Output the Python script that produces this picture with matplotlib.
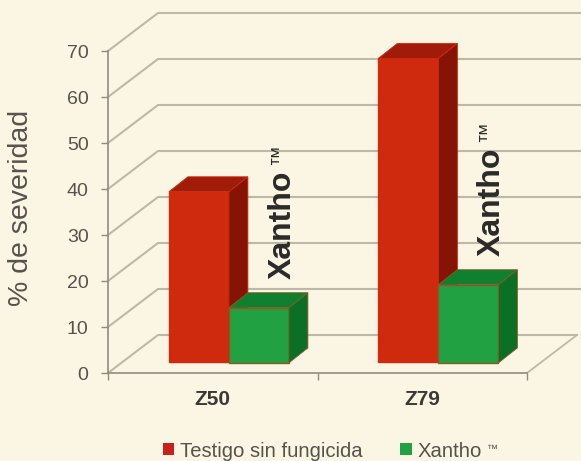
import matplotlib
matplotlib.use("Agg")
import matplotlib.pyplot as plt
from matplotlib.patches import Patch, Polygon

plt.rcParams['font.family'] = ['Liberation Sans', 'DejaVu Sans']

categories = ['Z50', 'Z79']
testigo = [37, 66]
xantho = [12, 17]
y_ticks = [0, 10, 20, 30, 40, 50, 60, 70]

W, H = 581, 461
BG = '#FBF5E3'
GRID = '#BDB9A9'
AXIS = '#8F8C80'
TXT = '#55534B'


def draw_bar(ax, x, val, base, width, front, top, side, edge, z):
    # front face is a normal bar, top and side are sheared copies of it
    ax.bar(x, val, width=width, bottom=base, align='edge', color=front,
           edgecolor=edge, linewidth=1, zorder=z, clip_on=False)
    y1 = base + val
    ax.add_patch(Polygon([(x, y1), (x + width, y1), (x + width + dx, y1 + dy), (x + dx, y1 + dy)],
                         closed=True, fc=top, ec=edge, lw=0.6, zorder=z, clip_on=False))
    ax.add_patch(Polygon([(x + width, base), (x + width + dx, base + dy), (x + width + dx, y1 + dy), (x + width, y1)],
                         closed=True, fc=side, ec=edge, lw=0.6, zorder=z, clip_on=False))


fig = plt.figure(figsize=(W / 100, H / 100), dpi=100, facecolor=BG)
ax = fig.add_axes([108 / W, (H - 373) / H, (527 - 108) / W, (373 - 51) / H])
ax.set_facecolor('none')
ax.set_xlim(0, 2)
ax.set_ylim(0, 70)

# depth of the fake 3d box and of the bars, in data units
wall_dx, wall_dy = 50 / 209.5, 38 / 4.6
dx, dy = 19 / 209.5, 15 / 4.6
right_edge = (581 - 108) / 209.5

for v in y_ticks:
    ax.plot([0, wall_dx, right_edge if v else 2 + wall_dx], [v, v + wall_dy, v + wall_dy],
            color=GRID, lw=1.5, zorder=1, clip_on=False, solid_joinstyle='miter')
ax.plot([2, 2 + wall_dx], [0, wall_dy], color=GRID, lw=1.3, zorder=1, clip_on=False)

base = 11 / 4.6
bar_w = 60 / 209.5
for i in range(len(categories)):
    split = i + 0.577
    draw_bar(ax, split - bar_w, testigo[i], base, bar_w, '#CF2A0E', '#A01B08', '#861405', '#CF2A0E', 3)
    draw_bar(ax, split, xantho[i], base - 0.2, bar_w, '#22A142', '#10802F', '#0B7026', '#8A5A25', 4)

ax.text(0.836, 20.5, 'Xantho', rotation=90, fontsize=23, fontweight='bold', color='#2A2A28',
        ha='center', va='bottom', zorder=5)
ax.text(0.812, 45.2, '™', rotation=90, fontsize=15, color='#2A2A28', ha='center', va='bottom', zorder=5)
ax.text(1.832, 25.5, 'Xantho', rotation=90, fontsize=23, fontweight='bold', color='#2A2A28',
        ha='center', va='bottom', zorder=5)
ax.text(1.805, 50.2, '™', rotation=90, fontsize=15, color='#2A2A28', ha='center', va='bottom', zorder=5)

for s in ['top', 'right']:
    ax.spines[s].set_visible(False)
for s in ['left', 'bottom']:
    ax.spines[s].set_color(AXIS)
    ax.spines[s].set_linewidth(1.2)

ax.set_yticks(y_ticks)
ax.tick_params(axis='y', length=5, width=1, color=AXIS, labelsize=14, labelcolor=TXT, pad=9)
ax.set_xticks([0, 1, 2])
ax.set_xticklabels([])
ax.tick_params(axis='x', which='major', length=5, width=1, color=AXIS)
ax.set_xticks([0.5, 1.5], minor=True)
ax.set_xticklabels(categories, minor=True, fontsize=15, fontweight='bold', color='#3A3935')
ax.tick_params(axis='x', which='minor', length=0, pad=12)

ax.set_ylabel('% de severidad', fontsize=20.5, color=TXT)
ax.yaxis.set_label_coords((34 - 108) / (527 - 108), 0.512)

handles = [Patch(fc='#C8201A', label='Testigo sin fungicida'), Patch(fc='#22A142', label='Xantho')]
fig.legend(handles=handles, ncol=2, frameon=False, loc='center left', bbox_to_anchor=(163 / W, 1 - 451 / H),
           fontsize=14.6, labelcolor=TXT, handlelength=0.55, handleheight=0.55, handletextpad=0.3,
           columnspacing=1.85, borderpad=0, borderaxespad=0)
fig.text(487 / W, 1 - 449 / H, '™', fontsize=8, color=TXT, va='center')

fig.savefig('out.png', dpi=100, facecolor=BG)
